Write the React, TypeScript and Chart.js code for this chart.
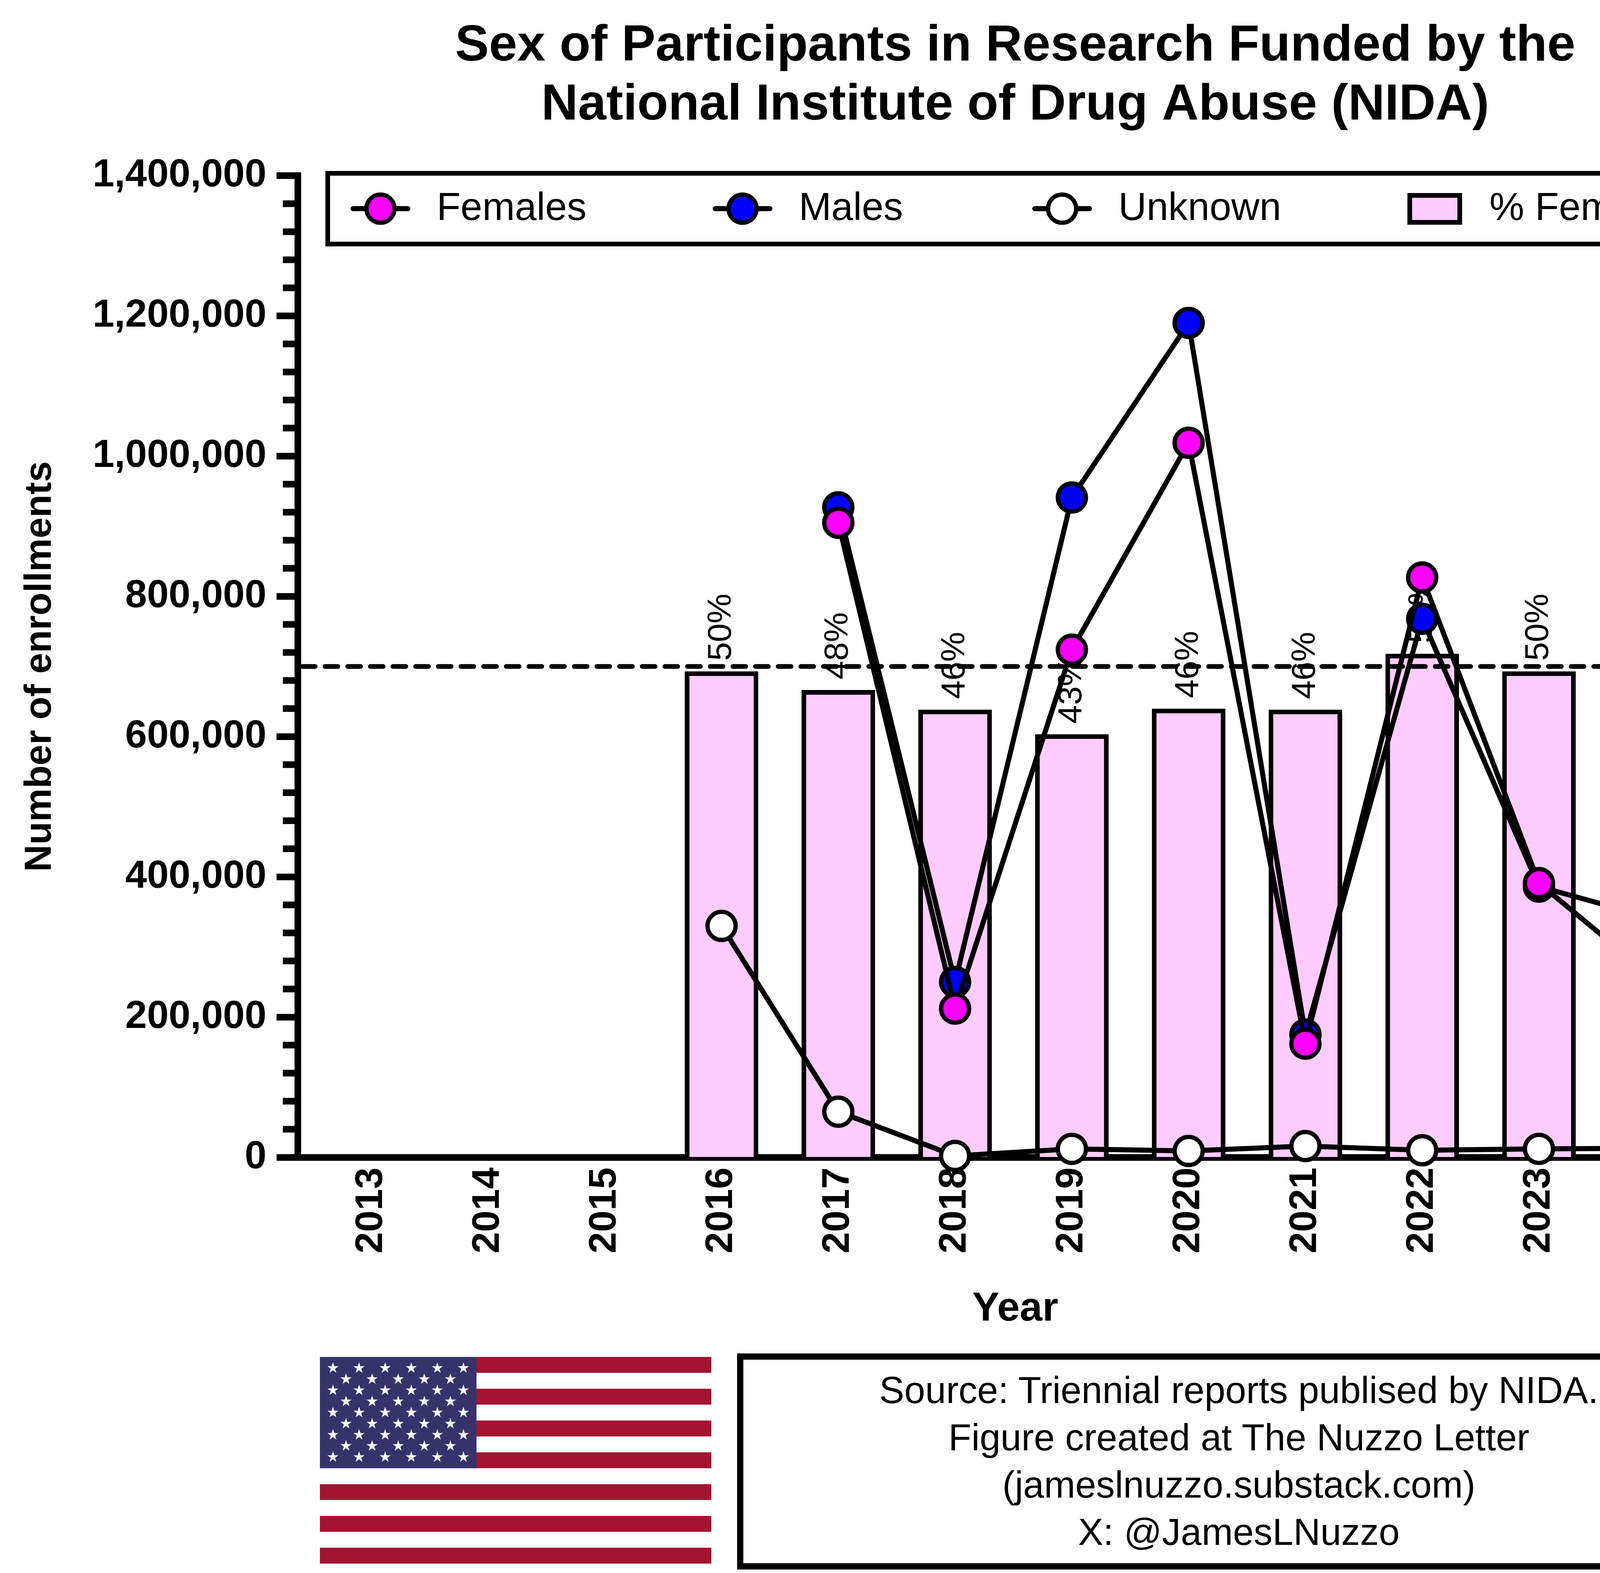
import { useEffect, useRef } from "react"
import { Chart, registerables } from "chart.js"

Chart.register(...registerables)

const FONT = "'Liberation Sans', Arial, Helvetica, sans-serif"

// x categories
const years = [2013, 2014, 2015, 2016, 2017, 2018, 2019, 2020, 2021, 2022, 2023, 2024]

// enrollments (left axis)
const sexYears = [2017, 2018, 2019, 2020, 2021, 2022, 2023, 2024]
const females = [905000, 212000, 724000, 1019000, 162000, 827000, 391000, 253000]
const males = [927000, 250000, 941000, 1190000, 175000, 768000, 386000, 340000]
const unknownYears = [2016, 2017, 2018, 2019, 2020, 2021, 2022, 2023, 2024]
const unknown = [330000, 65000, 2000, 12000, 9000, 16000, 10000, 12000, 13000]

// % females (right axis)
const pctYears = [2016, 2017, 2018, 2019, 2020, 2021, 2022, 2023, 2024]
const pctFemales = [49.5, 47.6, 45.6, 43.1, 45.7, 45.6, 51.3, 49.5, 41.6]
const pctLabels = ["50%", "48%", "46%", "43%", "46%", "46%", "51%", "50%", "42%"]

const titleLines = [
  "Sex of Participants in Research Funded by the",
  "National Institute of Drug Abuse (NIDA)",
]

const sourceLines = [
  "Source: Triennial reports publised by NIDA.",
  "Figure created at The Nuzzo Letter",
  "(jameslnuzzo.substack.com)",
  "X: @JamesLNuzzo",
]

const pts = (xs: number[], ys: number[]) => xs.map((x, i) => ({ x, y: ys[i] }))

// bar value labels + dashed 50% line, drawn right after the bars (under the lines)
const barExtras = {
  id: "barExtras",
  afterDatasetDraw(chart: any, args: any) {
    const ds = chart.data.datasets[args.index]
    if (ds.type !== "bar") return
    const { ctx, chartArea: a } = chart
    ctx.save()
    const y = chart.scales.y1.getPixelForValue(50)
    ctx.strokeStyle = "#000"
    ctx.lineWidth = 12
    ctx.lineCap = "round"
    ctx.setLineDash([33, 25])
    ctx.beginPath()
    ctx.moveTo(a.left + 12, y)
    ctx.lineTo(a.right, y)
    ctx.stroke()
    ctx.setLineDash([])
    ctx.fillStyle = "#000"
    ctx.font = `86px ${FONT}`
    ctx.textAlign = "left"
    ctx.textBaseline = "middle"
    args.meta.data.forEach((bar: any, i: number) => {
      ctx.save()
      ctx.translate(bar.x, bar.y - 27)
      ctx.rotate(-Math.PI / 2)
      ctx.fillText(pctLabels[i], 0, 0)
      ctx.restore()
    })
    ctx.restore()
  },
}

// minor ticks on the left axis
const minorTicks = {
  id: "minorTicks",
  afterDraw(chart: any) {
    const { ctx, chartArea: a } = chart
    const s = chart.scales.y
    ctx.save()
    ctx.strokeStyle = "#000"
    ctx.lineWidth = 17
    for (let v = 40000; v < s.max; v += 40000) {
      if (v % 200000 === 0) continue
      const y = s.getPixelForValue(v)
      ctx.beginPath()
      ctx.moveTo(a.left - 8, y)
      ctx.lineTo(a.left - 8 - 30, y)
      ctx.stroke()
    }
    ctx.restore()
  },
}

// boxed legend across the top of the plot
const legendX = [141, 1068, 1886, 2840]
const boxedLegend = {
  id: "boxedLegend",
  afterDraw(chart: any) {
    const { ctx, chartArea: a } = chart
    const left = a.left + 71
    const right = a.right - 76
    const top = a.top - 12
    const bottom = a.top + 181
    const cy = (top + bottom) / 2
    ctx.save()
    ctx.fillStyle = "#fff"
    ctx.fillRect(left, top, right - left, bottom - top)
    ctx.strokeStyle = "#000"
    ctx.lineWidth = 12
    ctx.strokeRect(left + 6, top + 6, right - left - 12, bottom - top - 12)
    ctx.font = `100px ${FONT}`
    ctx.textBaseline = "middle"
    ctx.textAlign = "left"
    chart.data.datasets.forEach((ds: any, i: number) => {
      const mx = left + legendX[i]
      if (ds.type === "line") {
        ctx.lineWidth = 13
        ctx.lineCap = "round"
        ctx.beginPath()
        ctx.moveTo(mx - 70, cy)
        ctx.lineTo(mx + 70, cy)
        ctx.stroke()
        ctx.beginPath()
        ctx.arc(mx, cy, 36, 0, Math.PI * 2)
        ctx.fillStyle = ds.pointBackgroundColor
        ctx.fill()
        ctx.lineWidth = 11
        ctx.stroke()
        ctx.fillStyle = "#000"
        ctx.fillText(ds.label, mx + 144, cy + 1)
      } else {
        ctx.fillStyle = ds.backgroundColor
        ctx.fillRect(mx - 70, cy - 40, 140, 81)
        ctx.lineWidth = 12
        ctx.strokeRect(mx - 70 + 6, cy - 40 + 6, 128, 69)
        ctx.fillStyle = "#000"
        ctx.fillText(ds.label, mx + 140, cy + 1)
      }
    })
    ctx.restore()
  },
}

function lineSet(label: string, xs: number[], ys: number[], fill: string, order: number) {
  return {
    type: "line",
    label,
    data: pts(xs, ys),
    yAxisID: "y",
    borderColor: "#000",
    borderWidth: 13,
    pointBackgroundColor: fill,
    pointBorderColor: "#000",
    pointBorderWidth: 11,
    pointRadius: 36,
    tension: 0,
    clip: false,
    order,
  }
}

function Flag() {
  const W = 1002
  const H = 529
  const sh = H / 13
  const cw = W * 0.4
  const ch = sh * 7
  const stars: [number, number][] = []
  for (let r = 0; r < 9; r++)
    for (let c = 0; c < 11; c++) if ((r + c) % 2 === 0) stars.push([((c + 1) * cw) / 12, ((r + 1) * ch) / 10])
  const R = 15
  const star = Array.from({ length: 10 }, (_, k) => {
    const rad = k % 2 === 0 ? R : R * 0.382
    const ang = -Math.PI / 2 + (k * Math.PI) / 5
    return `${(rad * Math.cos(ang)).toFixed(2)},${(rad * Math.sin(ang)).toFixed(2)}`
  }).join(" ")
  return (
    <svg width={W} height={H} style={{ position: "absolute", left: 819, top: 3473 }}>
      <rect x={0} y={0} width={W} height={H} fill="#fff" />
      {Array.from({ length: 7 }, (_, k) => (
        <rect key={k} x={0} y={k * 2 * sh} width={W} height={sh} fill="#A3142F" />
      ))}
      <rect x={0} y={0} width={cw} height={ch} fill="#35336A" />
      {stars.map(([x, y], k) => (
        <polygon key={k} points={star} transform={`translate(${x},${y})`} fill="#fff" />
      ))}
    </svg>
  )
}

export default function App() {
  const canvasRef = useRef<HTMLCanvasElement>(null)

  useEffect(() => {
    document.body.style.margin = "0"
    if (!canvasRef.current) return
    Chart.defaults.font.family = FONT
    Chart.defaults.color = "#000"

    const chart = new Chart(canvasRef.current, {
      type: "bar",
      data: {
        datasets: [
          lineSet("Females", sexYears, females, "#FF00FF", 0),
          lineSet("Males", sexYears, males, "#0000FF", 1),
          lineSet("Unknown", unknownYears, unknown, "#FFFFFF", 2),
          {
            type: "bar",
            label: "% Females",
            data: pts(pctYears, pctFemales),
            yAxisID: "y1",
            backgroundColor: "#FFCCFF",
            borderColor: "#000",
            borderWidth: 12,
            borderSkipped: "start",
            barPercentage: 0.63,
            categoryPercentage: 1,
            order: 3,
          },
        ] as any,
      },
      options: {
        animation: false,
        responsive: true,
        maintainAspectRatio: false,
        devicePixelRatio: 1,
        events: [],
        layout: { padding: 0 },
        plugins: {
          legend: { display: false },
          tooltip: { enabled: false },
          title: {
            display: true,
            fullSize: false,
            text: titleLines,
            color: "#000",
            font: { size: 130, weight: "bold", lineHeight: 1.16 },
            padding: { top: 44, bottom: 104 },
          },
        },
        scales: {
          x: {
            type: "linear",
            min: 2012.37,
            max: 2024.66,
            offset: false,
            afterBuildTicks: (s: any) => {
              s.ticks = years.map((v) => ({ value: v }))
            },
            afterFit: (s: any) => {
              s.height = 478
            },
            grid: { display: false, offset: false },
            border: { display: true, color: "#000", width: 17 },
            ticks: {
              autoSkip: false,
              minRotation: 90,
              maxRotation: 90,
              padding: 18,
              color: "#000",
              font: { size: 99, weight: "bold" },
              callback: (v: any) => String(v),
            },
            title: {
              display: true,
              text: "Year",
              color: "#000",
              font: { size: 104, weight: "bold" },
              padding: { top: 0, bottom: 26 },
            },
          },
          y: {
            type: "linear",
            position: "left",
            min: 0,
            max: 1400000,
            afterFit: (s: any) => {
              s.width = 762
            },
            grid: { drawOnChartArea: false, drawTicks: true, tickLength: 54, tickWidth: 17, tickColor: "#000" },
            border: { color: "#000", width: 17 },
            ticks: {
              stepSize: 200000,
              padding: 26,
              color: "#000",
              font: { size: 100, weight: "bold" },
              callback: (v: any) => Number(v).toLocaleString("en-US"),
            },
            title: {
              display: true,
              text: "Number of enrollments",
              color: "#000",
              font: { size: 96, weight: "bold" },
              padding: { top: 46, bottom: 0 },
            },
          },
          y1: {
            type: "linear",
            position: "right",
            min: 0,
            max: 100,
            afterFit: (s: any) => {
              s.width = 473
            },
            grid: { drawOnChartArea: false, drawTicks: true, tickLength: 84, tickWidth: 17, tickColor: "#000" },
            border: { color: "#000", width: 17 },
            ticks: {
              stepSize: 10,
              padding: 28,
              color: "#000",
              font: { size: 100, weight: "bold" },
            },
            title: {
              display: true,
              text: "Female enrollment (%)",
              color: "#000",
              font: { size: 96, weight: "bold" },
              padding: { top: 30, bottom: 0 },
            },
          },
        },
      } as any,
      plugins: [barExtras, minorTicks, boxedLegend],
    })

    return () => chart.destroy()
  }, [])

  return (
    <div style={{ position: "absolute", left: 0, top: 0, width: 4909, height: 4026, background: "#fff", fontFamily: FONT }}>
      <div style={{ position: "absolute", left: 0, top: 0, width: 4909, height: 3440 }}>
        <canvas ref={canvasRef} />
      </div>
      <Flag />
      <div
        style={{
          position: "absolute",
          left: 1887,
          top: 3464,
          width: 4456 - 1887,
          height: 4017 - 3464,
          boxSizing: "border-box",
          border: "16px solid #000",
          textAlign: "center",
          fontSize: 96,
          lineHeight: "121px",
          paddingTop: 17,
          color: "#000",
        }}
      >
        {sourceLines.map((l) => (
          <div key={l}>{l}</div>
        ))}
      </div>
    </div>
  )
}
